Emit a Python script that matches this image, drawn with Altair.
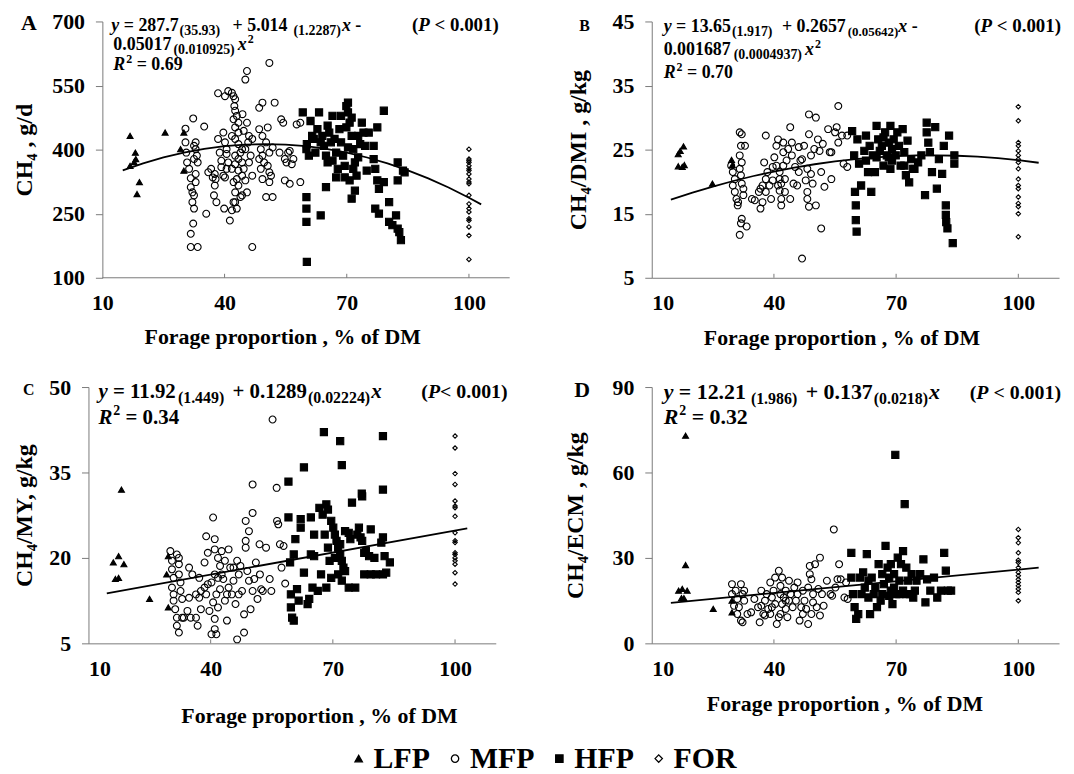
import altair as alt
import pandas as pd

FONT = "Liberation Serif, Times New Roman, serif"
GROUPS = ["LFP", "MFP", "HFP", "FOR"]
SHAPES = ["triangle-up", "circle", "square", "diamond"]
FILLS = ["black", "transparent", "black", "transparent"]
SIZES = {"LFP": 36, "MFP": 48, "HFP": 52, "FOR": 20}
X_TICKS = [10, 40, 70, 100]
X_DOMAIN = [10, 110]
X_TITLE = "Forage proportion , % of DM"

# ---------------- Panel A : CH4, g/d ----------------
A_LFP_x = [16.8, 16.8, 18.1, 18.2, 19.1, 18.5, 25.4, 30.0, 30.0, 29.2, 17.8]
A_LFP_y = [432, 362, 393, 378, 324, 296, 440, 440, 351, 401, 371]
A_MFP_x = [30.4, 30.4, 30.6, 30.8, 31.3, 31.7, 31.7, 32.1, 32.5, 32.1, 32.5, 31.7, 32.3, 31.7, 33.4, 32.3, 32.9, 32.9, 33.2, 32.5, 33.4, 32.9, 32.9, 32.5,
           35.0, 35.5, 36.0, 36.7, 37.6, 37.1, 37.8, 37.6, 37.4, 38.0, 38.4, 38.8, 39.2, 39.2, 39.7, 40.1, 40.5, 40.9, 40.5, 38.4, 40.1, 39.7, 40.1, 40.5, 39.9, 41.3, 41.8, 42.2,
           40.9, 41.8, 42.2, 42.6, 42.4, 42.6, 43.0, 43.4, 42.2, 42.6, 43.4, 41.8, 42.6, 43.4, 44.3, 43.9, 42.6, 43.4, 44.3, 42.6, 41.8, 43.4, 44.3, 43.0, 42.2, 43.4, 42.6, 43.9, 42.6, 43.0,
           45.1, 45.5, 44.4, 45.5, 44.7, 46.0, 45.8, 45.1, 46.4, 46.0, 44.7, 45.1, 45.5, 44.3, 46.8, 46.8,
           46.8, 48.5, 49.3, 50.6, 48.5, 49.3, 50.2, 48.9, 51.0, 49.3, 48.5, 49.7, 48.9, 51.0, 49.3, 51.4, 51.0, 50.2, 51.8, 51.8, 52.3, 50.6, 51.0,
           53.9, 54.4, 53.5, 54.8, 55.2, 55.6, 56.0, 56.9, 56.5, 57.7, 58.6, 54.8, 56.0, 58.6]
A_MFP_y = [449, 417, 393, 370, 355, 333, 312, 300, 293, 277, 262, 203, 227, 172, 172, 473, 417, 401, 386, 378, 370, 343, 324, 409,
           454, 250, 347, 355, 343, 335, 331, 316, 293, 277, 425, 393, 374, 359, 339, 335, 355, 370, 390, 532, 525, 440, 417, 401, 262, 234, 258, 277,
           537, 533, 525, 518, 502, 491, 479, 463, 471, 452, 440, 432, 425, 413, 401, 393, 386, 378, 370, 366, 355, 351, 339, 331, 324, 316, 300, 289, 277, 262,
           564, 584, 483, 463, 444, 432, 417, 401, 386, 370, 355, 328, 300, 293, 425, 339,
           172, 498, 510, 452, 448, 432, 417, 401, 393, 386, 378, 370, 355, 347, 331, 339, 324, 289, 289, 405, 510, 362, 603,
           471, 463, 393, 378, 370, 393, 397, 378, 366, 459, 463, 328, 320, 324]
A_HFP_x = [59.2, 60.1, 60.2, 60.7, 61.1, 61.5, 61.9, 62.3, 62.8, 63.2, 63.6, 64.0, 64.4, 64.9, 65.3, 65.3, 65.7, 66.1, 66.5, 67.0, 67.4, 67.8, 68.2, 68.6, 69.1, 69.5,
           69.9, 70.3, 70.3, 70.7, 71.2, 71.6, 72.0, 72.4, 72.8, 73.3, 73.7, 74.1, 74.5, 75.4, 76.6, 77.0, 77.5, 77.9, 77.0, 77.9, 79.1, 79.1, 80.4, 80.4, 81.2, 82.1,
           82.5, 82.5, 82.5, 82.9, 83.3, 83.8, 84.2, 60.1, 60.1, 60.1, 60.2, 63.6, 64.9, 71.2, 72.0, 68.6, 71.6, 70.7, 69.5, 67.4, 74.9, 77.5, 70.3, 66.5, 72.8, 76.6,
           69.9, 71.2]
A_HFP_y = [487, 401, 413, 386, 467, 432, 425, 393, 448, 487, 417, 432, 409, 386, 456, 370, 440, 417, 479, 425, 393, 355, 448, 417, 386, 362,
           502, 510, 487, 463, 432, 401, 370, 339, 432, 413, 463, 440, 409, 440, 378, 355, 328, 308, 262, 250, 324, 491, 277, 231, 223, 246,
           370, 328, 215, 207, 188, 351, 347, 289, 262, 231, 137, 246, 312, 285, 304, 479, 355, 328, 335, 335, 351, 452, 405, 374, 382, 409,
           452, 475]
A_FOR_x = [100, 100, 100, 100, 100, 100, 100, 100, 100, 100, 100, 100, 100, 100, 100, 100, 100, 100, 100, 100]
A_FOR_y = [401, 378, 370, 362, 355, 343, 331, 324, 320, 293, 273, 262, 254, 238, 234, 219, 199, 143, 374, 351]
A_COEF = [287.7, 5.014, -0.05017]
A_CURVE_X = [15, 20, 25, 30, 35, 40, 45, 50, 55, 60, 65, 70, 75, 80, 85, 90, 95, 100, 103]
A_Y_TICKS = [100, 250, 400, 550, 700]

# ---------------- Panel B : CH4/DMI, g/kg ----------------
B_LFP_x = [16.5, 17.0, 17.8, 16.5, 17.5, 18.0, 24.9, 29.6, 29.8]
B_LFP_y = [24.3, 24.8, 25.5, 22.4, 22.3, 22.6, 19.7, 23.4, 22.6]
B_MFP_x = [29.5, 29.9, 30.4, 29.9, 30.4, 30.8, 31.2, 31.6, 31.6, 32.1, 31.9, 32.1, 31.6, 31.9, 32.1, 32.5, 32.5, 32.1, 31.9, 31.6, 33.3, 32.9, 31.1,
           34.6, 35.3, 36.3, 36.7, 37.2, 36.7, 37.2, 37.6, 38.0, 38.4, 38.0, 38.9, 39.3, 38.0, 39.7, 40.1, 40.6, 40.6, 41.0, 41.0, 41.4, 41.4, 41.4, 41.8, 41.8,
           42.3, 42.3, 42.3, 42.7, 43.1, 43.5, 44.0, 44.0, 44.4, 44.4, 44.8, 45.2, 45.7, 46.1, 46.5, 46.9, 46.9, 47.8, 48.2, 48.2, 48.6, 48.6, 48.6, 49.1, 49.1,
           49.5, 49.9, 50.3, 50.3, 50.8, 51.2, 51.6, 51.6, 52.4, 52.0, 53.3, 53.7, 54.1, 54.1, 55.0, 55.4, 55.8, 55.8, 56.7, 57.1, 58.0, 58.0,
           39.7, 41.8, 42.7, 48.2, 46.1, 47.4]
B_MFP_y = [22.5, 21.5, 20.4, 19.4, 18.4, 17.3, 16.8, 24.1, 27.7, 27.4, 25.6, 23.0, 22.0, 21.0, 19.7, 18.9, 17.9, 14.2, 13.5, 11.7, 13.0, 25.6, 16.3,
           17.3, 17.1, 18.4, 18.9, 16.8, 15.8, 19.4, 23.0, 27.2, 21.5, 20.4, 19.4, 17.3, 18.4, 22.3, 23.8, 25.6, 22.5, 26.6, 19.4, 21.5, 20.4, 18.6, 17.3, 16.3,
           26.1, 24.6, 22.5, 20.4, 23.3, 25.1, 28.5, 17.3, 24.1, 26.1, 19.7, 22.3, 19.4, 25.4, 23.3, 23.5, 8.0, 20.2, 22.0, 17.3, 30.5, 27.4, 16.1, 24.1, 21.2,
           19.7, 25.1, 16.3, 30.0, 26.6, 24.8, 21.5, 12.7, 19.2, 25.9, 28.2, 24.6, 24.6, 20.4, 27.7, 28.5, 31.8, 26.1, 27.2, 22.8, 22.3, 27.2,
           20.2, 19.7, 18.4, 18.4, 21.5, 25.6]
B_HFP_x = [59.2, 59.7, 59.9, 60.1, 60.1, 60.3, 60.5, 60.9, 61.4, 62.2, 62.6, 63.1, 63.5, 63.9, 64.3, 64.8, 65.2, 65.6, 66.0, 66.5, 66.9, 67.3, 67.7, 68.2,
           68.6, 68.6, 69.0, 69.4, 69.9, 70.3, 70.7, 71.1, 71.6, 72.0, 72.4, 72.8, 73.2, 73.7, 74.1, 74.5, 75.4, 76.2, 77.1, 77.5, 77.5, 77.9, 78.3, 78.8,
           79.6, 80.0, 80.5, 81.3, 81.7, 82.2, 82.2, 82.3, 82.6, 83.0, 83.9, 84.3, 84.3, 66.9, 69.0, 72.0, 62.6, 65.2, 68.2]
B_HFP_y = [27.9, 24.1, 18.4, 16.3, 14.0, 12.2, 26.6, 22.8, 19.4, 24.8, 27.2, 21.5, 25.6, 18.4, 24.1, 21.5, 28.7, 26.6, 24.8, 25.6, 22.5, 27.7, 24.1, 26.1,
           28.7, 22.0, 25.1, 26.6, 24.1, 27.7, 25.6, 22.5, 28.2, 24.6, 21.0, 26.4, 19.9, 23.5, 22.0, 22.0, 23.0, 24.1, 17.9, 29.2, 27.7, 26.1, 24.6, 21.5,
           28.5, 18.9, 23.5, 21.2, 25.6, 16.3, 14.8, 13.7, 12.7, 27.2, 10.4, 24.1, 22.8, 26.9, 23.3, 22.5, 23.3, 23.8, 23.8]
B_FOR_x = [100, 100, 100, 100, 100, 100, 100, 100, 100, 100, 100, 100, 100, 100, 100, 100, 100]
B_FOR_y = [31.7, 29.5, 26.1, 25.6, 24.8, 24.1, 23.5, 23.0, 22.0, 20.4, 19.4, 18.9, 17.6, 16.6, 16.1, 15.0, 11.4]
B_COEF = [13.65, 0.2657, -0.001687]
B_CURVE_X = [14.7, 20, 25, 30, 35, 40, 45, 50, 55, 60, 65, 70, 75, 80, 85, 90, 95, 100, 105]
B_Y_TICKS = [5, 15, 25, 35, 45]

# ---------------- Panel C : CH4/MY, g/kg ----------------
C_LFP_x = [16.1, 16.6, 17.4, 17.4, 18.1, 18.7, 25.0, 29.6, 29.6, 29.2]
C_LFP_y = [19.2, 16.3, 20.3, 16.5, 32.0, 18.9, 12.8, 20.3, 11.3, 17.1]
C_MFP_x = [30.1, 30.5, 30.5, 30.9, 30.5, 30.9, 30.9, 31.3, 31.7, 31.7, 32.2, 31.7, 32.2, 32.2, 32.6, 32.6, 33.0, 32.2, 33.0, 33.4, 34.3, 34.7, 35.1,
           36.4, 36.8, 37.2, 37.2, 37.6, 37.6, 38.5, 38.5, 38.9, 39.3, 39.3, 39.7, 40.2, 40.6, 41.0, 41.0, 40.6, 41.0, 41.0, 41.4, 41.8, 41.8, 41.8, 42.3,
           42.3, 42.7, 43.1, 43.5, 43.5, 44.0, 44.4, 44.4, 44.8, 45.2, 45.6, 46.1, 46.5, 46.9, 47.3, 47.7, 48.2, 48.2, 48.6, 48.6, 49.0, 49.4, 49.8, 50.3,
           50.3, 50.3, 50.7, 51.1, 51.5, 52.0, 52.1, 52.4, 52.8, 53.6, 54.5, 54.9, 55.2, 56.2, 56.3, 56.6, 57.0, 57.4, 57.9, 58.3, 40.2, 41.4, 46.5,
           34.7, 35.5, 36.4, 38.9, 41.0, 42.7, 44.0, 45.6, 48.6, 49.4, 46.9]
C_MFP_y = [21.2, 19.5, 18.0, 16.5, 14.8, 13.6, 12.5, 11.0, 9.5, 8.1, 6.9, 20.6, 18.9, 17.1, 15.7, 14.2, 12.8, 20.0, 9.5, 9.5, 10.7, 13.0, 9.5,
           9.5, 8.1, 13.0, 16.5, 14.2, 11.0, 14.8, 19.2, 13.6, 15.4, 20.9, 10.7, 15.7, 12.2, 17.1, 9.3, 27.1, 23.3, 7.5, 13.6, 20.0, 16.5, 11.3, 18.6,
           14.5, 21.2, 16.3, 12.5, 19.5, 9.0, 14.8, 21.5, 18.3, 13.6, 16.0, 11.9, 19.5, 17.1, 18.6, 14.2, 10.1, 6.9, 26.5, 21.8, 17.7, 24.7, 11.0, 14.2,
           32.9, 27.9, 16.3, 19.2, 12.8, 22.4, 17.1, 14.5, 14.2, 21.8, 16.3, 14.2, 44.3, 32.3, 26.5, 25.9, 22.4, 18.3, 22.1, 15.5, 6.6, 6.6, 5.7,
           18.3, 17.1, 13.6, 23.8, 21.5, 17.1, 13.6, 18.3, 23.0, 16.0, 13.6]
C_HFP_x = [59.1, 62.9, 67.8, 71.8, 72.2, 77.1, 77.2, 82.3, 82.3, 74.7, 68.4, 68.8, 66.7, 59.1, 62.1, 64.6, 62.1, 60.8, 65.4, 68.0, 69.6, 70.1, 70.5,
           70.9, 71.3, 71.8, 72.2, 72.6, 71.3, 72.2, 73.9, 74.3, 76.4, 76.8, 77.2, 77.7, 78.9, 79.3, 80.2, 80.6, 81.9, 82.3, 82.7, 83.1, 84.0, 82.3, 77.7,
           75.5, 73.9, 73.0, 67.1, 69.6, 68.4, 65.0, 66.3, 64.2, 63.8, 61.2, 61.6, 59.5, 60.4, 59.7, 59.7, 60.0, 60.4, 62.9, 64.6, 65.4, 67.5, 68.8, 69.2,
           70.5, 71.8, 73.0, 76.0, 78.1, 79.3]
C_HFP_y = [33.4, 35.9, 42.1, 40.5, 36.3, 31.3, 30.8, 41.4, 32.0, 29.7, 29.4, 28.5, 28.8, 27.1, 26.8, 27.1, 25.3, 23.3, 24.1, 24.1, 26.5, 25.3, 24.1,
           23.0, 21.8, 20.6, 19.5, 18.3, 17.1, 16.0, 24.4, 23.3, 25.3, 23.6, 23.0, 20.9, 20.3, 25.0, 20.0, 17.1, 22.7, 23.6, 20.3, 17.4, 19.2, 17.1, 17.1,
           14.8, 14.8, 17.7, 17.1, 16.5, 14.8, 14.8, 14.2, 12.8, 11.9, 14.5, 12.5, 19.2, 20.6, 13.6, 11.3, 9.5, 9.0, 17.4, 20.6, 20.3, 27.6, 21.8, 19.5,
           20.0, 22.4, 24.7, 24.1, 21.2, 17.1]
C_FOR_x = [100, 100, 100, 100, 100, 100, 100, 100, 100, 100, 100, 100, 100, 100, 100, 100, 100, 100]
C_FOR_y = [41.4, 39.3, 34.8, 32.9, 30.0, 29.1, 28.8, 27.3, 24.4, 23.0, 22.7, 20.9, 20.6, 20.0, 19.5, 18.9, 17.4, 15.4]
C_COEF = [11.92, 0.1289, 0.0]
C_CURVE_X = [14.5, 103]
C_Y_TICKS = [5, 20, 35, 50]

# ---------------- Panel D : CH4/ECM, g/kg ----------------
D_LFP_x = [18.3, 18.3, 16.6, 17.5, 18.7, 17.3, 17.9, 25.1, 29.7, 29.7]
D_LFP_y = [72.9, 27.5, 18.5, 19.1, 18.5, 15.9, 15.9, 12.1, 15.0, 10.9]
D_MFP_x = [29.7, 29.7, 30.2, 30.6, 31.0, 31.4, 31.9, 31.9, 32.3, 32.7, 32.7, 32.3, 34.4, 35.2, 36.1, 36.5, 36.9, 37.4, 37.8, 38.2, 38.6, 39.1, 39.1,
           39.5, 39.9, 40.3, 40.3, 40.7, 41.2, 41.2, 41.6, 41.6, 42.0, 42.0, 42.4, 42.9, 42.9, 43.3, 43.7, 43.7, 44.1, 44.6, 45.0, 45.4, 45.8, 46.3, 46.7,
           47.1, 47.5, 47.9, 48.4, 48.4, 48.8, 48.8, 49.2, 49.6, 49.6, 50.1, 50.5, 50.9, 51.3, 51.3, 51.8, 52.2, 53.0, 53.9, 54.3, 54.7, 55.1, 55.6, 56.0,
           56.4, 57.3, 57.7, 58.1, 45.8, 47.1, 49.2, 41.6, 42.9, 39.5, 36.9, 33.5, 31.0, 37.8]
D_MFP_y = [20.8, 17.3, 13.2, 18.5, 15.6, 12.7, 20.8, 8.0, 7.4, 18.5, 15.0, 17.3, 10.9, 15.6, 12.7, 7.4, 18.5, 10.3, 15.0, 17.3, 12.1, 21.4, 10.3,
           16.1, 18.5, 23.1, 13.8, 6.8, 25.5, 9.2, 17.3, 20.2, 23.1, 13.8, 16.1, 18.5, 12.1, 9.2, 22.0, 15.0, 17.3, 12.7, 19.6, 15.0, 17.3, 8.0, 12.7,
           18.5, 15.0, 12.1, 6.8, 19.6, 27.2, 24.3, 22.5, 17.3, 14.4, 27.8, 12.7, 19.1, 30.1, 9.8, 17.3, 13.2, 22.0, 17.3, 16.7, 40.0, 19.6, 22.5, 27.8,
           22.5, 16.1, 21.4, 15.6, 21.4, 10.3, 10.3, 10.3, 15.0, 12.7, 13.2, 10.3, 10.3, 9.8]
D_HFP_x = [59.0, 59.0, 59.4, 59.8, 60.2, 60.7, 61.1, 61.5, 61.9, 62.3, 62.8, 63.2, 63.6, 64.0, 64.5, 64.9, 65.3, 65.7, 66.2, 66.6, 67.0, 67.4, 67.9,
           68.3, 68.7, 69.1, 69.5, 69.8, 70.0, 70.4, 70.8, 71.2, 71.7, 71.7, 72.1, 72.5, 72.9, 73.4, 73.8, 74.2, 74.6, 75.0, 75.9, 76.7, 77.2, 77.6, 78.4,
           79.3, 80.1, 81.0, 81.8, 82.2, 82.7, 83.5, 68.7, 70.8, 72.5, 66.6, 63.2, 68.3, 69.5]
D_HFP_y = [31.8, 23.1, 17.3, 12.7, 8.6, 10.3, 23.1, 17.3, 24.9, 19.6, 31.3, 16.1, 10.3, 23.1, 17.3, 19.6, 12.7, 27.8, 15.0, 24.3, 20.8, 34.2, 26.6,
           23.1, 18.5, 13.8, 24.3, 66.2, 17.3, 30.1, 22.0, 27.8, 32.4, 18.5, 48.9, 26.6, 22.0, 17.3, 24.3, 16.1, 18.5, 22.0, 24.3, 29.5, 14.4, 22.5, 18.5,
           23.1, 16.1, 18.5, 31.8, 25.5, 18.5, 18.5, 27.8, 17.3, 17.3, 17.3, 22.0, 16.7, 19.6]
D_FOR_x = [100, 100, 100, 100, 100, 100, 100, 100, 100, 100, 100, 100, 100, 100, 100]
D_FOR_y = [40.0, 37.1, 35.3, 31.8, 29.2, 28.4, 26.6, 24.9, 23.7, 22.5, 21.4, 20.2, 19.1, 17.9, 15.0]
D_COEF = [12.21, 0.137, 0.0]
D_CURVE_X = [14.7, 105]
D_Y_TICKS = [0, 30, 60, 90]

# ---------------- text metrics (Times / Liberation Serif Bold) ----------------
BOLD_W = {c: 500 for c in "0123456789"}
BOLD_W.update({" ": 250, ".": 250, "(": 333, ")": 333, "=": 570, "+": 570, "-": 333, "<": 570})
ITAL_W = {"y": 444, "x": 500, "P": 611, "R": 667}

ONE = pd.DataFrame({"k": [0]})


def text_width(s, size, italic):
    table = ITAL_W if italic else BOLD_W
    return sum(table.get(c, 500) for c in s) * size / 1000.0


def txt(s, x, y, size, italic=False, align="left"):
    return alt.Chart(ONE).mark_text(
        text=s, font=FONT, fontSize=size, fontWeight="bold",
        fontStyle="italic" if italic else "normal",
        align=align, baseline="alphabetic", color="black",
    ).encode(x=alt.value(x), y=alt.value(y))


def run_line(x, y, runs):
    """runs: (text, italic, size, dy, gap)"""
    out = []
    cx = x
    for text, italic, size, dy, gap in runs:
        cx += gap
        stripped = text.lstrip(" ")
        cx += text_width(text[: len(text) - len(stripped)], size, italic)
        out.append(txt(stripped, cx, y + dy, size, italic))
        cx += text_width(stripped, size, italic)
    return out


def right_line(xr, y, runs):
    total = sum(g + text_width(t, s, i) for t, i, s, dy, g in runs)
    return run_line(xr - total, y, runs)


def p_runs(size, tight=False):
    return [("(", 0, size, 0, 0), ("P", 1, size, 0, 0),
            (("< 0.001)" if tight else " < 0.001)"), 0, size, 0, 0)]


W, H = 410, 258
AXIS_GREY = "#7a7a7a"

leg = alt.Legend(
    title=None, orient="none", direction="horizontal", legendX=257, legendY=727,
    labelFont=FONT, labelFontSize=30, labelFontWeight="bold", labelColor="black",
    symbolSize=55, symbolStrokeColor="black", symbolStrokeWidth=1.3,
    columnPadding=10, labelOffset=0,
)
shape_scale = alt.Scale(domain=GROUPS, range=SHAPES)
fill_scale = alt.Scale(domain=GROUPS, range=FILLS)
stroke_scale = alt.Scale(domain=GROUPS, range=["black", "black", "black", "black"])


def panel(pts, coef, curve_x, ydom, yticks, ytitle, title_pad, xtitle_x, xtitle_pad, texts, show_legend, lead=0):
    # `lead` widens the plot to the left by that many pixels while the y axis stays at x = 10
    px_per_unit = W / (X_DOMAIN[1] - X_DOMAIN[0])
    x_lo = X_DOMAIN[0] - lead / px_per_unit
    xenc = alt.X("x:Q", scale=alt.Scale(domain=[x_lo, X_DOMAIN[1]], nice=False, zero=False),
                 axis=alt.Axis(values=X_TICKS, title=X_TITLE, ticks=False, labelPadding=15,
                               titlePadding=xtitle_pad, titleX=xtitle_x + lead, domain=(lead == 0)))
    yenc = alt.Y("y:Q", scale=alt.Scale(domain=ydom, nice=False, zero=False),
                 axis=alt.Axis(values=yticks, title=ytitle, tickSize=7, labelPadding=11,
                               titlePadding=title_pad, offset=-lead))
    layers = []
    for g in ["MFP", "HFP", "FOR", "LFP"]:
        xs, ys = pts[g]
        df = pd.DataFrame({"x": xs, "y": ys, "g": [g] * len(xs)})
        lg = leg if show_legend else None
        layers.append(
            alt.Chart(df).mark_point(opacity=1, size=SIZES[g], strokeWidth=1.1)
            .encode(x=xenc, y=yenc,
                    shape=alt.Shape("g:N", scale=shape_scale, legend=lg),
                    fill=alt.Fill("g:N", scale=fill_scale, legend=lg),
                    stroke=alt.Stroke("g:N", scale=stroke_scale, legend=lg))
        )
    b0, b1, b2 = coef
    curve = (
        alt.Chart(pd.DataFrame({"x": curve_x}))
        .transform_calculate(y=f"{b0} + {b1}*datum.x + {b2}*datum.x*datum.x")
        .mark_line(color="black", strokeWidth=1.8)
        .encode(x="x:Q", y="y:Q")
    )
    ticks = (
        alt.Chart(pd.DataFrame({"t": X_TICKS[1:]}))
        .mark_rule(color=AXIS_GREY, strokeWidth=1)
        .encode(x="t:Q", y=alt.value(H - 4), y2=alt.value(H))
    )
    extra = []
    if lead:
        extra.append(
            alt.Chart(pd.DataFrame({"a": [X_DOMAIN[0]], "b": [X_DOMAIN[1]]}))
            .mark_rule(color=AXIS_GREY, strokeWidth=1)
            .encode(x="a:Q", x2="b:Q", y=alt.value(H))
        )
    return alt.layer(*layers, curve, ticks, *extra, *texts).properties(width=W + lead, height=H)


# ---------------- annotations (pixel offsets from each plot's top-left) ----------------
AL = 14  # extra left lead of panel A
A_texts = (
    [txt("A", -82 + AL, 9, 22)]
    + run_line(9 + AL, 10, [("y", 1, 18, 0, 0), (" = 287.7", 0, 18, 0, 0), ("(35.93)", 0, 14, 4, 1),
                            (" + 5.014", 0, 18, 0, 8), ("(1.2287)", 0, 14, 4, 6), ("x", 1, 18, 0, 1), (" -", 0, 18, 0, 0)])
    + run_line(11 + AL, 29, [("0.05017", 0, 18, 0, 0), ("(0.010925)", 0, 14, 4, 2), ("x", 1, 18, 0, 3), ("2", 0, 12, -7, 1)])
    + run_line(11 + AL, 49, [("R", 1, 18, 0, 0), ("2", 0, 12, -7, 1), (" = 0.69", 0, 18, 0, 0)])
    + right_line(399 + AL, 10, p_runs(19))
)
B_texts = (
    [txt("B", -73, 10, 16)]
    + run_line(12, 11, [("y", 1, 18, 0, 0), (" = 13.65", 0, 18, 0, 0), ("(1.917)", 0, 14, 4, 1),
                        (" + 0.2657", 0, 18, 0, 5), ("(0.05642)", 0, 13, 4, 2), ("x", 1, 18, 0, 0), (" -", 0, 18, 0, 0)])
    + run_line(12, 34, [("0.001687", 0, 18, 0, 0), ("(0.0004937)", 0, 14, 4, 3), ("x", 1, 18, 0, 3), ("2", 0, 12, -7, 1)])
    + run_line(12, 57, [("R", 1, 18, 0, 0), ("2", 0, 12, -7, 1), (" = 0.70", 0, 18, 0, 0)])
    + right_line(412, 11, p_runs(19))
)
C_texts = (
    [txt("C", -66, 8, 16)]
    + run_line(10, 11, [("y", 1, 21, 0, 0), (" = 11.92", 0, 21, 0, 0), ("(1.449)", 0, 16, 5, 1),
                        (" + 0.1289", 0, 21, 0, 3), ("(0.02224)", 0, 16, 5, 1), ("x", 1, 21, 0, 1)])
    + run_line(10, 37, [("R", 1, 21, 0, 0), ("2", 0, 14, -9, 1), (" = 0.34", 0, 21, 0, 0)])
    + right_line(422, 11, p_runs(20, tight=True))
)
D_texts = (
    [txt("D", -78, 10, 22)]
    + run_line(12, 12, [("y", 1, 22, 0, 0), (" = 12.21", 0, 22, 0, 0), ("(1.986)", 0, 16, 5, 5),
                        (" + 0.137", 0, 22, 0, 3), ("(0.0218)", 0, 16, 5, 1), ("x", 1, 22, 0, 1)])
    + run_line(12, 37, [("R", 1, 22, 0, 0), ("2", 0, 14, -9, 1), (" = 0.32", 0, 22, 0, 0)])
    + right_line(412, 12, p_runs(20))
)

pA = panel({"LFP": (A_LFP_x, A_LFP_y), "MFP": (A_MFP_x, A_MFP_y), "HFP": (A_HFP_x, A_HFP_y), "FOR": (A_FOR_x, A_FOR_y)},
           A_COEF, A_CURVE_X, [100, 700], A_Y_TICKS, "CH₄ , g/d", 15, 181, 13, A_texts, True, lead=AL)
pB = panel({"LFP": (B_LFP_x, B_LFP_y), "MFP": (B_MFP_x, B_MFP_y), "HFP": (B_HFP_x, B_HFP_y), "FOR": (B_FOR_x, B_FOR_y)},
           B_COEF, B_CURVE_X, [5, 45], B_Y_TICKS, "CH₄/DMI ,  g/kg", 22, 191, 14, B_texts, False)
pC = panel({"LFP": (C_LFP_x, C_LFP_y), "MFP": (C_MFP_x, C_MFP_y), "HFP": (C_HFP_x, C_HFP_y), "FOR": (C_FOR_x, C_FOR_y)},
           C_COEF, C_CURVE_X, [5, 50], C_Y_TICKS, "CH₄/MY,  g/kg", 12, 232, 27, C_texts, False)
pD = panel({"LFP": (D_LFP_x, D_LFP_y), "MFP": (D_MFP_x, D_MFP_y), "HFP": (D_HFP_x, D_HFP_y), "FOR": (D_FOR_x, D_FOR_y)},
           D_COEF, D_CURVE_X, [0, 90], D_Y_TICKS, "CH₄/ECM , g/kg", 25, 194, 15, D_texts, False)

chart = (
    alt.concat(pA, pB, pC, pD, columns=2,
               spacing=alt.RowColnumber(row=28, column=53))
    .properties(padding={"left": 5, "top": 0, "right": 5, "bottom": 5})
    .configure_view(stroke=None)
    .configure_axis(
        grid=False, domainColor=AXIS_GREY, tickColor=AXIS_GREY, domainWidth=1,
        labelFont=FONT, labelFontSize=22, labelFontWeight="bold", labelColor="black",
        titleFont=FONT, titleFontSize=22, titleFontWeight="bold", titleColor="black",
    )
    .configure_axisY(titleFontSize=24)
)

chart.save("out.html", embed_options={"renderer": "svg", "actions": False})
